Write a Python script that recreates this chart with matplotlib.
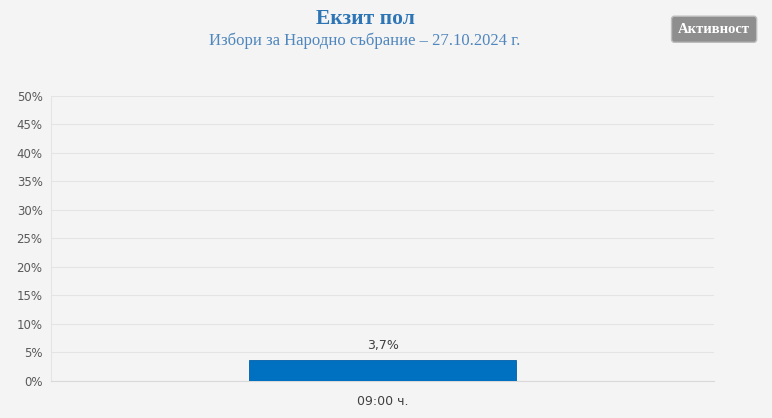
import numpy as np
import matplotlib.pyplot as plt
from matplotlib.ticker import FuncFormatter

# Данни
categories = ['09:00 ч.']
values = [3.7]
yticks = [0, 5, 10, 15, 20, 25, 30, 35, 40, 45, 50]

bg = '#f4f4f4'
fig = plt.figure(figsize=(7.72, 4.18), dpi=100, facecolor=bg)
ax = fig.add_axes([0.066, 0.0885, 0.859, 0.682], facecolor=bg)

x = np.arange(len(categories))
bars = ax.bar(x, values, width=0.403, color='#0070c0', edgecolor='#005fa8', linewidth=0.6, zorder=3)

ax.set_xlim(-0.5, 0.5)
ax.set_ylim(0, 50)
ax.set_yticks(yticks)
ax.yaxis.set_major_formatter(FuncFormatter(lambda v, p: f'{v:.0f}%'))
ax.set_xticks(x)
ax.set_xticklabels(categories)
ax.tick_params(axis='both', length=0, labelsize=8.5, colors='#595959', pad=6)
ax.tick_params(axis='x', pad=10, labelsize=9, colors='#404040')
ax.grid(axis='y', color='#e4e4e4', linewidth=0.8, zorder=0)
for s in ['top', 'right']:
    ax.spines[s].set_visible(False)
ax.spines['left'].set_color('#e4e4e4')
ax.spines['bottom'].set_color('#d9d9d9')

# етикети над стълбовете
for b, v in zip(bars, values):
    ax.text(b.get_x() + b.get_width() / 2, v + 1.3, f'{v:.1f}%'.replace('.', ','),
            ha='center', va='bottom', fontsize=9, color='#404040')

# заглавия
fig.text(0.473, 0.955, 'Екзит пол', ha='center', va='center', fontsize=15.5,
         fontweight='bold', color='#2e75b6', family='Liberation Serif')
fig.text(0.473, 0.903, 'Избори за Народно събрание – 27.10.2024 г.', ha='center', va='center',
         fontsize=12, color='#4f86bd', family='Liberation Serif')

# бутон
fig.text(0.925, 0.930, 'Активност', ha='center', va='center', fontsize=10.5, color='white',
         family='Liberation Serif', fontweight='bold',
         bbox=dict(boxstyle='round,pad=0.45,rounding_size=0.2', fc='#8e8e8e', ec='#bdbdbd', lw=1))

fig.savefig('out.png', dpi=100, facecolor=bg)
